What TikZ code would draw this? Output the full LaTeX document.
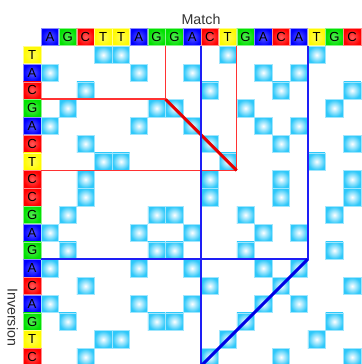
\documentclass[tikz,border=0pt]{standalone}
\usepackage{fontspec}
\setmainfont{Liberation Sans}
\colorlet{nucA}{blue}
\definecolor{nucG}{RGB}{0,225,0}
\colorlet{nucC}{red}
\definecolor{nucT}{RGB}{255,250,0}
\definecolor{dotblue}{RGB}{45,200,250}
\definecolor{matchred}{RGB}{255,50,50}
\definecolor{invblue}{RGB}{30,30,245}

\tikzset{
  base/.style={rectangle, minimum size=0.5cm-0.4pt, inner sep=0pt, shading=radial,
    inner color=#1!65!white, outer color=#1, draw=#1!45!white, line width=0.4pt,
    font=\fontsize{10.5}{12}\selectfont},
  dot/.style={rectangle, minimum size=0.5cm-0.4pt, inner sep=0pt, shading=radial,
    inner color=white, outer color=dotblue, draw=dotblue!45!white, line width=0.4pt},
  label/.style={font=\fontsize{11.4}{13}\selectfont, text=black!80},
}

\begin{document}
\begin{tikzpicture}[x=0.5cm, y=0.5cm]
                    \useasboundingbox (-2.306,-17.885) rectangle (18,2.587);
                    % Sequences
                    \foreach \a [count=\j] in {A,G,C,T,T,A,G,G,A,C,T,G,A,C,A,T,G,C}
                      \node[base=nuc\a] (t\j) at (\j-0.5,0.5) {\a};
                    \foreach \b [count=\i] in {T,A,C,G,A,C,T,C,C,G,A,G,A,C,A,G,T,C}
                      \node[base=nuc\b] (l\i) at (-0.5,-\i+0.5) {\b};
                    % Dots
                    \foreach \a [count=\j] in {A,G,C,T,T,A,G,G,A,C,T,G,A,C,A,T,G,C}
                      \foreach \b [count=\i] in {T,A,C,G,A,C,T,C,C,G,A,G,A,C,A,G,T,C}{
                        \edef\ta{\a}\edef\tb{\b}
                        \ifx\ta\tb \node[dot] (d\i-\j) at (\j-0.5,-\i+0.5) {}; \fi
                      }
                    % Corners
                    \coordinate (m1) at (7,0);
                    \coordinate (m2) at (7,-3);
                    \coordinate (m3) at (0,-3);
                    \coordinate (m4) at (11,0);
                    \coordinate (m5) at (11,-7);
                    \coordinate (m6) at (0,-7);
                    \coordinate (v1) at (9,0);
                    \coordinate (v2) at (9,-18);
                    \coordinate (v3) at (15,0);
                    \coordinate (v4) at (15,-12);
                    \coordinate (v5) at (0,-12);
                    % Edges
                    \draw[matchred, line width=1.4pt] (m1) -- (m2) -- (m3);
                    \draw[matchred, line width=1.4pt] (m4) -- (m5) -- (m6);
                    \draw[red!90!black, line width=2.4pt] (m2) -- (m5);
                    \draw[invblue, line width=1.4pt] (v1) -- (v2);
                    \draw[invblue, line width=1.4pt] (v3) -- (v4) -- (v5);
                    \draw[blue!90!black, line width=2.4pt] (v4) -- (v2);
                    % Labels
                    \node[label] (match) at (9,1.52) {Match};
                    \node[label, rotate=-90] (inversion) at (-1.59,-15.25) {Inversion};
                \end{tikzpicture}
\end{document}
